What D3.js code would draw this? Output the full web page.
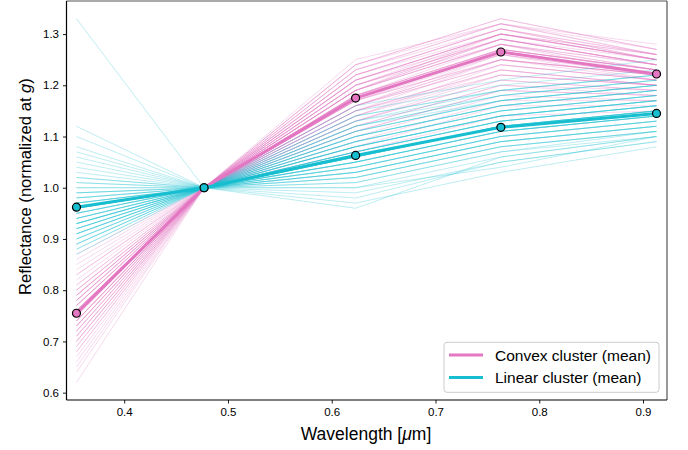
<!DOCTYPE html>
<html>
<head>
<meta charset="utf-8">
<script src="https://cdn.jsdelivr.net/npm/d3@7"></script>
<style>
  body { margin: 0; background: #fff; }
  text { font-family: "Liberation Sans", Arial, sans-serif; }
</style>
</head>
<body>
<div id="chart"></div>
<script>
// Wavelengths of the u, g, r, i, z bands (micrometres)
var wavelengths = [0.354, 0.477, 0.623, 0.763, 0.913];

// Cluster means
var convexMean = [0.755, 1.0, 1.175, 1.265, 1.222];
var linearMean = [0.962, 1.0, 1.063, 1.118, 1.145];

// Individual spectra, convex cluster (g is always 1.0)
var convexU = [0.74,0.68,0.79,0.71,0.83,0.76,0.65,0.77,0.72,0.80,0.70,0.75,0.62,0.78,0.73,0.86,0.76,0.69,0.81,0.74,0.67,0.77,0.73,0.79,0.84,0.71,0.75,0.64,0.78,0.72,0.80,0.76,0.70,0.87,0.74,0.77,0.82,0.66,0.75,0.79,0.73,0.81,0.69,0.76,0.78,0.72,0.85,0.74,0.70,0.77,0.80,0.75,0.68,0.79,0.73,0.76,0.71,0.83,0.78,0.74];
var convexR = [1.16,1.21,1.19,1.13,1.22,1.17,1.20,1.11,1.24,1.15,1.18,1.23,1.19,1.09,1.21,1.16,1.14,1.25,1.18,1.12,1.20,1.17,1.22,1.15,1.19,1.10,1.23,1.18,1.14,1.21,1.16,1.24,1.13,1.19,1.17,1.08,1.22,1.15,1.20,1.18,1.12,1.23,1.17,1.21,1.14,1.19,1.16,1.24,1.11,1.20,1.18,1.15,1.22,1.07,1.19,1.16,1.21,1.13,1.18,1.20];
var convexI = [1.25,1.30,1.29,1.22,1.31,1.27,1.28,1.19,1.33,1.25,1.26,1.32,1.30,1.17,1.29,1.24,1.23,1.32,1.28,1.20,1.30,1.25,1.31,1.22,1.28,1.18,1.31,1.27,1.24,1.30,1.26,1.32,1.21,1.29,1.25,1.16,1.30,1.23,1.29,1.27,1.20,1.32,1.26,1.30,1.22,1.28,1.24,1.33,1.19,1.29,1.27,1.23,1.31,1.14,1.28,1.25,1.30,1.21,1.27,1.29];
var convexZ = [1.21,1.26,1.24,1.20,1.25,1.23,1.22,1.18,1.27,1.22,1.21,1.27,1.25,1.17,1.24,1.21,1.20,1.26,1.23,1.19,1.26,1.22,1.25,1.20,1.24,1.17,1.26,1.23,1.21,1.25,1.22,1.28,1.19,1.24,1.22,1.16,1.25,1.20,1.24,1.23,1.18,1.26,1.22,1.25,1.20,1.24,1.21,1.27,1.18,1.25,1.23,1.20,1.26,1.15,1.23,1.22,1.25,1.19,1.23,1.24];

// Individual spectra, linear cluster
var linearU = [0.96,1.02,0.91,0.99,0.88,0.95,1.07,0.93,0.97,0.90,1.04,0.94,1.12,0.92,0.98,0.87,0.96,1.01,0.89,0.95,1.33,0.93,1.00,0.91,0.97,1.06,0.94,0.88,0.99,0.92,1.10,0.96,0.90,0.98,0.95,1.03,0.89,0.93,0.97,0.91,0.94,1.00,0.92,0.96,1.05,0.90,0.98,0.93,0.95,1.01,0.89,0.97,0.92,1.08,0.94,0.99,0.91,0.96,1.02,0.93];
var linearR = [1.04,1.09,1.06,1.00,1.12,1.07,1.03,1.10,1.05,1.08,1.13,1.02,1.06,1.11,0.99,1.15,1.04,1.08,1.07,1.01,1.00,1.10,1.05,1.14,1.03,1.09,1.06,1.12,0.97,1.08,1.04,1.16,1.07,1.02,1.11,1.05,1.09,0.96,1.06,1.13,1.03,1.08,1.10,1.01,1.07,1.12,1.05,1.04,1.09,0.98,1.06,1.11,1.03,1.07,1.14,1.02,1.08,1.05,1.10,1.06];
var linearI = [1.10,1.15,1.12,1.06,1.17,1.13,1.09,1.16,1.11,1.14,1.19,1.08,1.12,1.17,1.05,1.20,1.10,1.14,1.13,1.07,1.04,1.16,1.11,1.19,1.09,1.15,1.12,1.18,1.03,1.14,1.10,1.21,1.13,1.08,1.17,1.11,1.15,1.06,1.12,1.18,1.09,1.14,1.16,1.07,1.13,1.18,1.11,1.10,1.15,1.05,1.12,1.17,1.09,1.13,1.19,1.08,1.14,1.11,1.16,1.12];
var linearZ = [1.13,1.18,1.15,1.10,1.20,1.16,1.12,1.19,1.14,1.17,1.22,1.11,1.15,1.20,1.09,1.23,1.13,1.17,1.16,1.11,1.10,1.19,1.14,1.22,1.12,1.18,1.15,1.21,1.08,1.17,1.13,1.25,1.16,1.11,1.20,1.14,1.18,1.10,1.15,1.21,1.12,1.17,1.19,1.10,1.16,1.21,1.14,1.13,1.18,1.09,1.15,1.20,1.12,1.16,1.22,1.11,1.17,1.14,1.19,1.15];

var xTicks = [0.4, 0.5, 0.6, 0.7, 0.8, 0.9];
var yTicks = [0.6, 0.7, 0.8, 0.9, 1.0, 1.1, 1.2, 1.3];

var pink = "#e377c2";
var cyan = "#17becf";

// Set up chart
var svgWidth = 688;
var svgHeight = 450;
var margin = {top: 1, right: 21, bottom: 50, left: 66.5};
var width = 667 - margin.left;
var height = 400 - margin.top;

var svg = d3.select("#chart")
    .append("svg")
    .attr("width", svgWidth)
    .attr("height", svgHeight);

var chartGroup = svg.append("g")
    .attr("transform", `translate(${margin.left}, ${margin.top})`);

var xScale = d3.scaleLinear()
    .domain([0.3444, 0.9231])
    .range([0, width]);

var yScale = d3.scaleLinear()
    .domain([0.5857, 1.3645])
    .range([height, 0]);

// Build spectra from the band arrays
function spectra(u, r, i, z) {
    return u.map(function(d, k) {
        return [u[k], 1.0, r[k], i[k], z[k]];
    });
}
var convexLines = spectra(convexU, convexR, convexI, convexZ);
var linearLines = spectra(linearU, linearR, linearI, linearZ);

var line = d3.line()
    .x(function(d, k) { return xScale(wavelengths[k]); })
    .y(function(d) { return yScale(d); });

// Thin individual spectra
chartGroup.selectAll(".convex-thin")
    .data(convexLines)
    .enter()
    .append("path")
    .attr("d", line)
    .attr("fill", "none")
    .attr("stroke", pink)
    .attr("stroke-width", 1)
    .attr("stroke-opacity", 0.28);

chartGroup.selectAll(".linear-thin")
    .data(linearLines)
    .enter()
    .append("path")
    .attr("d", line)
    .attr("fill", "none")
    .attr("stroke", cyan)
    .attr("stroke-width", 1)
    .attr("stroke-opacity", 0.28);

// Mean lines with markers
[[convexMean, pink], [linearMean, cyan]].forEach(function(m) {
    chartGroup.append("path")
        .attr("d", line(m[0]))
        .attr("fill", "none")
        .attr("stroke", m[1])
        .attr("stroke-width", 3);

    chartGroup.selectAll(null)
        .data(m[0])
        .enter()
        .append("circle")
        .attr("cx", function(d, k) { return xScale(wavelengths[k]); })
        .attr("cy", function(d) { return yScale(d); })
        .attr("r", 4)
        .attr("fill", m[1])
        .attr("stroke", "#000")
        .attr("stroke-width", 1.2);
});

// Axes
var bottomAxis = d3.axisBottom(xScale).tickValues(xTicks).tickSize(3.5).tickPadding(4).tickFormat(d3.format(".1f"));
var leftAxis = d3.axisLeft(yScale).tickValues(yTicks).tickSize(3.5).tickPadding(4).tickFormat(d3.format(".1f"));

var xAxisG = chartGroup.append("g")
    .attr("transform", `translate(0, ${height})`)
    .call(bottomAxis);
var yAxisG = chartGroup.append("g")
    .call(leftAxis);

[xAxisG, yAxisG].forEach(function(g) {
    g.select(".domain").remove();
    g.selectAll("line").attr("stroke", "#000").attr("stroke-width", 0.9);
    g.selectAll("text").attr("font-size", "11.5px").attr("fill", "#000")
        .style("font-family", "'Liberation Sans', Arial, sans-serif");
});

// Frame
chartGroup.append("line").attr("x1", 0).attr("x2", width).attr("y1", 0).attr("y2", 0)
    .attr("stroke", "#555").attr("stroke-width", 1.2);
chartGroup.append("line").attr("x1", width).attr("x2", width).attr("y1", 0).attr("y2", height)
    .attr("stroke", "#555").attr("stroke-width", 1.2);
chartGroup.append("line").attr("x1", 0).attr("x2", width).attr("y1", height).attr("y2", height)
    .attr("stroke", "#000").attr("stroke-width", 1.2);
chartGroup.append("line").attr("x1", 0).attr("x2", 0).attr("y1", 0).attr("y2", height)
    .attr("stroke", "#000").attr("stroke-width", 1.2);

// Legend
var legend = chartGroup.append("g")
    .attr("transform", `translate(${444 - margin.left}, ${342.3 - margin.top})`);
legend.append("rect")
    .attr("width", 215)
    .attr("height", 50)
    .attr("rx", 3)
    .attr("fill", "#fff")
    .attr("fill-opacity", 0.8)
    .attr("stroke", "#ccc");
[["Convex cluster (mean)", pink], ["Linear cluster (mean)", cyan]].forEach(function(e, k) {
    var gy = 12.7 + k * 22.5;
    legend.append("line")
        .attr("x1", 5).attr("x2", 39).attr("y1", gy).attr("y2", gy)
        .attr("stroke", e[1]).attr("stroke-width", 3);
    legend.append("text")
        .attr("x", 51).attr("y", gy + 5.8)
        .attr("font-size", "15.5px")
        .attr("fill", "#000")
        .text(e[0]);
});

// Axis labels
var yLabel = svg.append("text")
    .attr("transform", "rotate(-90)")
    .attr("x", -186.5)
    .attr("y", 31)
    .attr("text-anchor", "middle")
    .attr("font-size", "16.6px")
    .attr("fill", "#000");
yLabel.append("tspan").text("Reflectance (normalized at ");
yLabel.append("tspan").attr("font-style", "italic").text("g");
yLabel.append("tspan").text(")");

var xLabel = svg.append("text")
    .attr("x", 366)
    .attr("y", 440)
    .attr("text-anchor", "middle")
    .attr("font-size", "17.5px")
    .attr("fill", "#000");
xLabel.append("tspan").text("Wavelength [");
xLabel.append("tspan").attr("font-style", "italic").text("\u03bc");
xLabel.append("tspan").text("m]");
</script>
</body>
</html>
